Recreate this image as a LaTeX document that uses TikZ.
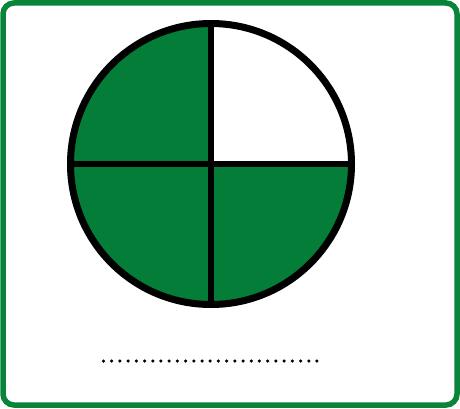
\documentclass[tikz,border=0pt]{standalone}
\usepackage{xcolor}
\definecolor{FracGreen}{HTML}{037D37}
\definecolor{FrameGreen}{HTML}{0A8439}
\usetikzlibrary{calc}

\begin{document}
\begin{tikzpicture}[x=1pt, y=1pt]
\useasboundingbox (0,0) rectangle (460,408);
% Frame
\draw[line width=5.5pt, color=FrameGreen, rounded corners=11pt] (3,3) rectangle (457,405);
% Three shaded quarters
\coordinate (O) at (211,244);
\fill[FracGreen] (O) -- ++(90:140.5) arc[start angle=90, end angle=360, radius=140.5] -- cycle;
% Circle and dividing lines
\draw[line width=7pt, color=black] (O) circle (140.5);
\draw[line width=6pt, color=black] ($(O)+(0,140.5)$) -- ($(O)+(0,-140.5)$);
\draw[line width=6pt, color=black] ($(O)+(-140.5,0)$) -- ($(O)+(140.5,0)$);
% Answer line
\coordinate (dotA) at (103.5,47);
\foreach \k in {0,...,26}
  \fill[black] ($(dotA)+(\k*8.21,0)$) circle (1.75);
\end{tikzpicture}
\end{document}
